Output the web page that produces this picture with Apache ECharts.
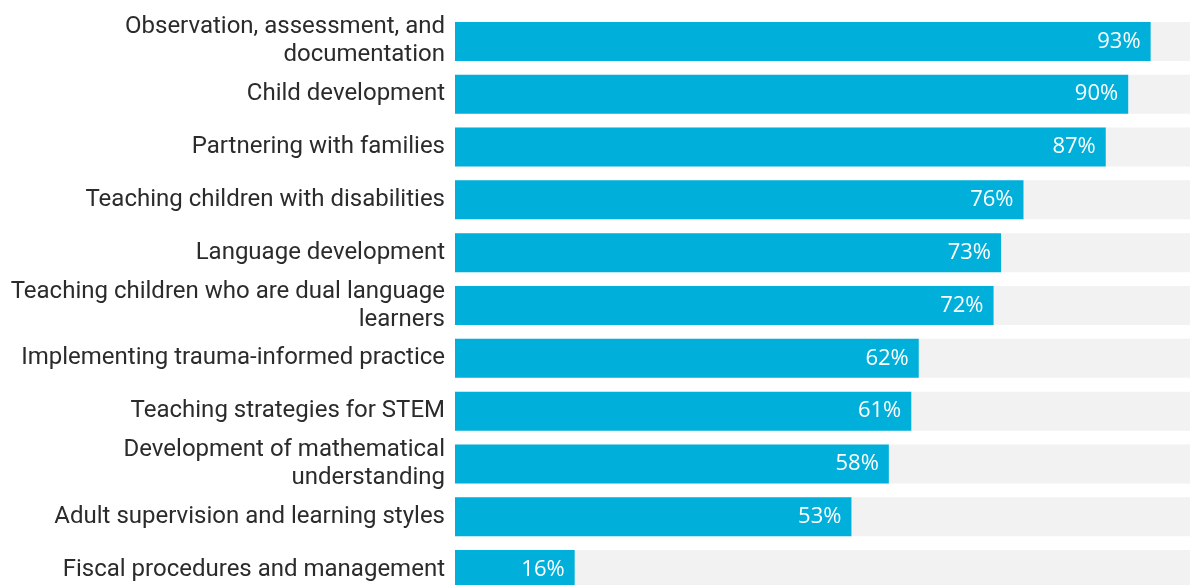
<!DOCTYPE html>
<html>
<head>
<meta charset="utf-8">
<script src="https://cdn.jsdelivr.net/npm/echarts@6/dist/echarts.min.js"></script>
<style>
  html, body { margin: 0; padding: 0; background: #ffffff; }
  #chart { width: 1190px; height: 585px; }
</style>
</head>
<body>
<div id="chart"></div>
<script>
// Topic areas, listed top to bottom
const categories = [
  'Observation, assessment, and\ndocumentation',
  'Child development',
  'Partnering with families',
  'Teaching children with disabilities',
  'Language development',
  'Teaching children who are dual language\nlearners',
  'Implementing trauma-informed practice',
  'Teaching strategies for STEM',
  'Development of mathematical\nunderstanding',
  'Adult supervision and learning styles',
  'Fiscal procedures and management'
];

// Share of respondents (%)
const shares = [93, 90, 87, 76, 73, 72, 62, 61, 58, 53, 16];

const chart = echarts.init(document.getElementById('chart'), null, { renderer: 'canvas' });

chart.setOption({
  backgroundColor: '#ffffff',
  animation: false,
  grid: {
    left: 455,
    right: -13,
    top: 15,
    bottom: -11,
    containLabel: false,
    outerBoundsMode: 'none'
  },
  xAxis: {
    type: 'value',
    min: 0,
    max: 100,
    show: false
  },
  yAxis: {
    type: 'category',
    data: categories,
    inverse: true,
    axisLine: { show: false },
    axisTick: { show: false },
    splitLine: { show: false },
    axisLabel: {
      margin: 10,
      color: '#2b2b2b',
      fontFamily: 'Roboto',
      fontSize: 24,
      lineHeight: 28,
      align: 'right'
    }
  },
  series: [{
    type: 'bar',
    data: shares,
    barWidth: 39,
    showBackground: true,
    backgroundStyle: { color: '#f2f2f2' },
    itemStyle: { color: '#00b0da' },
    label: {
      show: true,
      position: 'insideRight',
      distance: 10,
      formatter: '{c}%',
      color: '#ffffff',
      fontFamily: 'Open Sans',
      fontSize: 22
    }
  }]
});
</script>
</body>
</html>
